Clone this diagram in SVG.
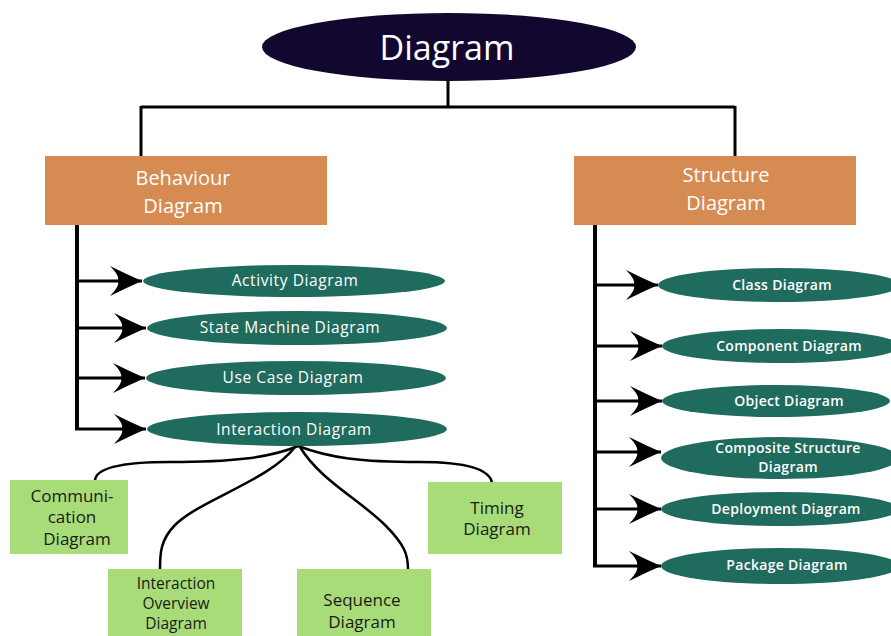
<svg xmlns="http://www.w3.org/2000/svg" width="891" height="636" viewBox="0 0 891 636">
<style>
.root{fill:#12072f}
.cat{fill:#d68b52}
.oval{fill:#1f6b5d}
.leaf{fill:#a8dc78}
.wt{fill:#ffffff;font-family:"Open Sans","Liberation Sans",sans-serif;text-anchor:middle}
.ov{fill:#ffffff;font-family:"Open Sans","Liberation Sans",sans-serif;text-anchor:middle;font-size:15.5px;letter-spacing:0.6px}
.ovr{fill:#ffffff;font-family:"Open Sans","Liberation Sans",sans-serif;text-anchor:middle;font-size:14px;font-weight:600;letter-spacing:0.3px}
.dk{fill:#1a1a1a;font-family:"Open Sans","Liberation Sans",sans-serif;text-anchor:middle;font-size:17px}
.dks{fill:#1a1a1a;font-family:"Open Sans","Liberation Sans",sans-serif;text-anchor:middle;font-size:15.5px}
.ln{stroke:#000;stroke-width:3;fill:none}
.sp{stroke:#000;stroke-width:4;fill:none;stroke-linejoin:miter}
.cv{stroke:#000;stroke-width:2.5;fill:none}
.ar{stroke:#000;stroke-width:3;fill:none;marker-end:url(#ah)}
</style>
<defs>
<marker id="ah" markerWidth="36" markerHeight="34" refX="34" refY="17" orient="auto" markerUnits="userSpaceOnUse" viewBox="0 0 36 34">
<path d="M34,17 Q18,10 2,2 Q12,12 10,17 Q12,22 2,32 Q18,24 34,17 Z" fill="#000"/>
</marker>
</defs>
<rect width="891" height="636" fill="#ffffff"/>
<g id="connectors">
<path class="ln" d="M448,80 V107 M141,107 H735 M141,106 V157 M735,106 V157"/>
<path class="sp" d="M77,225 V429"/>
<path class="ar" d="M77,281 H142"/>
<path class="ar" d="M77,328 H146"/>
<path class="ar" d="M77,378 H145"/>
<path class="ar" d="M75,429 H146"/>
<path class="sp" d="M595,225 V566"/>
<path class="ar" d="M595,285 H658"/>
<path class="ar" d="M595,346 H662"/>
<path class="ar" d="M595,401 H662"/>
<path class="ar" d="M595,452 H661"/>
<path class="ar" d="M595,509 H661"/>
<path class="ar" d="M593,566 H661"/>
<path class="cv" d="M298,446 C270,458 230,462 170,462 C120,462 95,468 95,481"/>
<path class="cv" d="M298,446 C330,458 360,462 420,462 C470,462 490,470 492,483"/>
<path class="cv" d="M295,447 C270,480 200,500 175,525 C160,540 160,555 160,569"/>
<path class="cv" d="M300,447 C320,480 360,500 385,525 C405,545 408,555 408,569"/>
</g>
<g id="diagram">
<ellipse class="root" cx="449" cy="47" rx="187" ry="34"/>
<text class="wt" x="447" y="60" font-size="34">Diagram</text>
</g>
<g id="behaviour">
<rect class="cat" x="45" y="156" width="282" height="69"/>
<text class="wt" x="183" y="185" font-size="20">Behaviour</text>
<text class="wt" x="183" y="213" font-size="20">Diagram</text>
</g>
<g id="structure">
<rect class="cat" x="574" y="156" width="282" height="69"/>
<text class="wt" x="726" y="182" font-size="20">Structure</text>
<text class="wt" x="726" y="210" font-size="20">Diagram</text>
</g>
<g id="activity">
<ellipse class="oval" cx="294" cy="281" rx="151" ry="16"/>
<text class="ov" x="295" y="286">Activity Diagram</text>
</g>
<g id="statemachine">
<ellipse class="oval" cx="297" cy="328" rx="150" ry="17"/>
<text class="ov" x="290" y="333">State Machine Diagram</text>
</g>
<g id="usecase">
<ellipse class="oval" cx="296" cy="378" rx="150" ry="17"/>
<text class="ov" x="293" y="383">Use Case Diagram</text>
</g>
<g id="interaction">
<ellipse class="oval" cx="297" cy="429" rx="150" ry="17"/>
<text class="ov" x="294" y="435">Interaction Diagram</text>
</g>
<g id="class">
<ellipse class="oval" cx="779" cy="285" rx="121" ry="17"/>
<text class="ovr" x="782" y="290">Class Diagram</text>
</g>
<g id="component">
<ellipse class="oval" cx="781" cy="346" rx="119" ry="17"/>
<text class="ovr" x="789" y="351">Component Diagram</text>
</g>
<g id="object">
<ellipse class="oval" cx="776" cy="401" rx="114" ry="16"/>
<text class="ovr" x="789" y="406">Object Diagram</text>
</g>
<g id="composite">
<ellipse class="oval" cx="780" cy="458" rx="119" ry="21"/>
<text class="ovr" x="788" y="453">Composite Structure</text>
<text class="ovr" x="788" y="472">Diagram</text>
</g>
<g id="deployment">
<ellipse class="oval" cx="780" cy="509" rx="119" ry="17"/>
<text class="ovr" x="786" y="514">Deployment Diagram</text>
</g>
<g id="package">
<ellipse class="oval" cx="780" cy="566" rx="119" ry="18"/>
<text class="ovr" x="787" y="570">Package Diagram</text>
</g>
<g id="communication">
<rect class="leaf" x="10" y="480" width="118" height="74"/>
<text class="dk" x="72" y="502">Communi-</text>
<text class="dk" x="72" y="523">cation</text>
<text class="dk" x="77" y="545">Diagram</text>
</g>
<g id="overview">
<rect class="leaf" x="108" y="569" width="134" height="70"/>
<text class="dks" x="176" y="589">Interaction</text>
<text class="dks" x="176" y="609">Overview</text>
<text class="dks" x="176" y="629">Diagram</text>
</g>
<g id="sequence">
<rect class="leaf" x="297" y="569" width="134" height="70"/>
<text class="dk" x="362" y="606">Sequence</text>
<text class="dk" x="362" y="628">Diagram</text>
</g>
<g id="timing">
<rect class="leaf" x="428" y="482" width="134" height="72"/>
<text class="dk" x="497" y="514">Timing</text>
<text class="dk" x="497" y="535">Diagram</text>
</g>
</svg>
